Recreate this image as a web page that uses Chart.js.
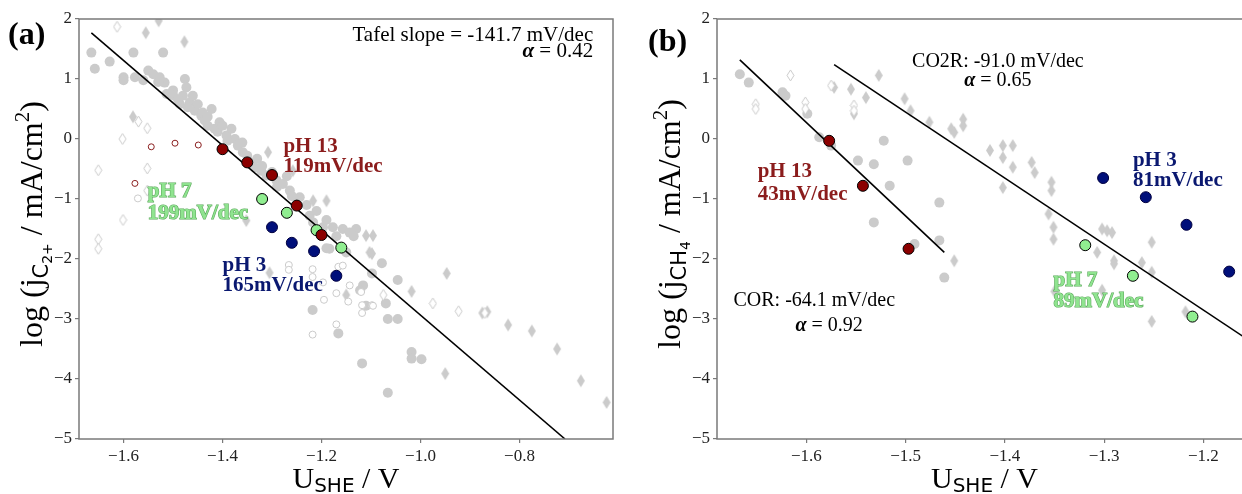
<!DOCTYPE html>
<html><head><meta charset="utf-8">
<script src="https://cdn.jsdelivr.net/npm/chart.js@4.4.1/dist/chart.umd.min.js"></script>
<style>
html,body{margin:0;padding:0;background:#fff;overflow:hidden;width:1242px;height:494px}
.panel{position:absolute;top:0}
#pa{left:0;width:620px;height:494px}
#pb{left:620px;width:640px;height:494px}
</style></head><body>
<div class="panel" id="pa"><canvas id="ca" width="620" height="494"></canvas></div>
<div class="panel" id="pb"><canvas id="cb" width="640" height="494"></canvas></div>
<script>
// ---- panel (a): C2+ ----
const aTicksX = [-1.6, -1.4, -1.2, -1.0, -0.8];
const ticksY = [-5, -4, -3, -2, -1, 0, 1, 2];

const aGrayX = [-1.665,-1.658,-1.628,-1.60,-1.58,-1.577,-1.55,-1.54,-1.527,-1.52,-1.517,-1.513,-1.50,-1.486,-1.48,-1.476,-1.473,-1.466,-1.456,-1.45,-1.443,-1.436,-1.43,-1.422,-1.416,-1.406,-1.392,-1.382,-1.375,-1.369,-1.359,-1.342,-1.335,-1.322,-1.311,-1.291,-1.278,-1.264,-1.244,-1.224,-1.217,-1.197,-1.177,-1.157,-1.143,-1.184,-1.15,-1.116,-1.11,-1.19,-1.078,-1.098,-1.046,-1.122,-1.218,-1.07,-1.066,-1.046,-1.166,-1.018,-1.018,-0.998,-1.118,-1.066,
  -1.60,-1.56,-1.53,-1.50,-1.49,-1.47,-1.46,-1.44,-1.43,-1.41,-1.40,-1.39,-1.36,-1.35,-1.33,-1.32,-1.30,-1.29,-1.27,-1.26,-1.23,-1.21,-1.19,-1.20,-1.17,-1.13,-1.135];
const aGrayY = [1.44,1.17,1.29,1.03,1.44,1.03,1.14,1.08,1.03,1.44,0.94,0.75,0.81,0.58,0.72,1.0,0.86,0.61,0.47,0.58,0.39,0.31,0.22,0.5,0.17,0.28,0.06,0.17,0.0,-0.11,-0.22,-0.39,-0.47,-0.53,-0.61,-0.69,-0.75,-0.86,-0.97,-1.28,-1.39,-1.47,-1.47,-1.5,-1.56,-1.83,-1.89,-2.44,-2.78,-1.82,-2.07,-2.24,-2.35,-2.52,-2.85,-2.74,-3.0,-3.0,-3.24,-3.55,-3.66,-3.67,-3.74,-4.23,
  0.98,0.98,0.95,0.73,0.66,0.53,0.72,0.44,0.37,0.12,0.22,-0.03,-0.06,-0.28,-0.33,-0.45,-0.55,-0.8,-0.62,-0.95,-1.1,-1.2,-1.35,-1.55,-1.62,-1.5,-1.62];
const aDiaX = [-1.555,-1.529,-1.477,-1.581,-1.308,-1.258,-1.217,-1.19,-1.11,-1.096,-1.103,-1.352,-1.098,-0.947,-1.018,-0.875,-0.865,-0.823,-0.775,-0.724,-0.95,-0.676,-0.624,-1.305,-1.15];
const aDiaY = [1.77,1.97,1.62,0.37,-0.22,-0.53,-1.03,-1.03,-1.61,-1.61,-1.89,-1.36,-1.91,-2.24,-2.54,-2.9,-2.88,-3.1,-3.2,-3.5,-3.91,-4.03,-4.39,-2.23,-2.6];
const aOpenDiaX = [-1.613,-1.57,-1.552,-1.602,-1.552,-1.651,-1.601,-1.651,-1.651,-1.552,-1.075,-0.975,-0.923,-0.87];
const aOpenDiaY = [1.87,0.29,0.18,0.0,-0.49,-0.52,-1.35,-1.67,-1.83,-0.86,-2.6,-2.74,-2.87,-2.9];
const aOpenX = [-1.571,-1.266,-1.266,-1.218,-1.218,-1.166,-1.195,-1.17,-1.146,-1.118,-1.118,-1.098,-1.17,-1.218,-1.12,-1.157,-1.143,-1.197,-1.096];
const aOpenY = [-0.99,-2.1,-2.18,-2.17,-2.3,-2.13,-2.68,-2.57,-2.71,-2.77,-2.9,-2.77,-3.09,-3.26,-2.55,-2.11,-2.44,-2.39,-2.78];
const aRedOpenX = [-1.544,-1.496,-1.449,-1.577];
const aRedOpenY = [-0.13,-0.07,-0.10,-0.74];
const aPH13X = [-1.40,-1.35,-1.30,-1.25,-1.20];
const aPH13Y = [-0.17,-0.39,-0.60,-1.11,-1.60];
const aPH7X = [-1.32,-1.27,-1.21,-1.16];
const aPH7Y = [-1.00,-1.23,-1.52,-1.81];
const aPH3X = [-1.30,-1.26,-1.215,-1.17];
const aPH3Y = [-1.47,-1.73,-1.87,-2.28];
const aFitX = [-1.665, -0.708];
const aFitY = [1.767, -5.0];

// ---- panel (b): CH4 ----
const bTicksX = [-1.6, -1.5, -1.4, -1.3, -1.2];
const bGrayX = [-1.667,-1.658,-1.624,-1.621,-1.599,-1.587,-1.575,-1.548,-1.532,-1.522,-1.498,-1.516,-1.466,-1.532,-1.491,-1.466,-1.461];
const bGrayY = [1.08,0.94,0.78,0.72,0.42,0.03,-0.11,-0.36,-0.42,-0.03,-0.36,-0.78,-1.06,-1.39,-1.75,-1.69,-2.31];
const bDiaX = [-1.527,-1.572,-1.555,-1.54,-1.552,-1.501,-1.495,-1.476,-1.454,-1.451,-1.442,-1.442,-1.415,-1.402,-1.402,-1.392,-1.392,-1.402,-1.373,-1.37,-1.353,-1.353,-1.356,-1.351,-1.351,-1.302,-1.297,-1.292,-1.307,-1.29,-1.29,-1.262,-1.252,-1.252,-1.252,-1.218,-1.451,-1.35,-1.302];
const bDiaY = [1.06,0.86,0.83,0.69,0.42,0.67,0.47,0.28,0.17,0.11,0.33,0.22,-0.19,-0.11,-0.31,-0.11,-0.47,-0.81,-0.39,-0.56,-0.72,-0.86,-1.25,-1.47,-1.67,-1.5,-1.53,-1.56,-1.89,-2.03,-2.08,-2.06,-1.72,-2.22,-3.04,-2.88,-2.03,-2.54,-2.52];
const bOpenDiaX = [-1.616,-1.651,-1.651,-1.601,-1.601,-1.575,-1.552,-1.552];
const bOpenDiaY = [1.06,0.58,0.50,0.61,0.50,0.89,0.56,0.47];
const bPH13X = [-1.577,-1.543,-1.497];
const bPH13Y = [-0.03,-0.78,-1.83];
const bPH7X = [-1.319,-1.271,-1.211];
const bPH7Y = [-1.77,-2.28,-2.96];
const bPH3X = [-1.301,-1.258,-1.217,-1.174];
const bPH3Y = [-0.65,-0.97,-1.43,-2.21];
const bCorX = [-1.667, -1.461];
const bCorY = [1.32, -1.89];
const bCo2rX = [-1.572, -1.15];
const bCo2rY = [1.24, -3.40];

const SERIF = '"Liberation Serif", "Times New Roman", serif';
const SANS = '"DejaVu Sans", sans-serif';
const GRAY = '#cbcbcb';
const RED = '#8b0000', REDTXT = '#8b1c1c';
const GREEN = '#90ee90', GREENTXT = '#8fe48f';
const NAVY = '#000f7a', NAVYTXT = '#0a1870';

function pts(xs, ys) { return xs.map((x, i) => ({ x: x, y: ys[i] })); }
function fmt1(v) { return (v < 0 ? '\u2212' : '') + Math.abs(v).toFixed(1); }
function fmt0(v) { return (v < 0 ? '\u2212' : '') + Math.abs(v); }

function diamond(w, h, fill, stroke) {
  const c = document.createElement('canvas');
  c.width = w + 2; c.height = h + 2;
  const g = c.getContext('2d');
  g.beginPath();
  g.moveTo(c.width / 2, 1); g.lineTo(c.width - 1, c.height / 2);
  g.lineTo(c.width / 2, c.height - 1); g.lineTo(1, c.height / 2);
  g.closePath();
  g.fillStyle = fill; g.fill();
  if (stroke) { g.strokeStyle = stroke; g.lineWidth = 1; g.stroke(); }
  return c;
}
const diaFull = diamond(8, 13, GRAY);
const diaOpen = diamond(7, 11, '#fff', GRAY);

function drawRich(ctx, segs, x, y, align, color, stroke) {
  let w = 0;
  segs.forEach(s => { ctx.font = s.f; s.w = ctx.measureText(s.t).width; w += s.w; });
  let cx = align === 'center' ? x - w / 2 : align === 'right' ? x - w : x;
  ctx.textBaseline = 'alphabetic';
  ctx.textAlign = 'left';
  segs.forEach(s => {
    ctx.font = s.f;
    if (stroke) { ctx.strokeStyle = stroke; ctx.lineWidth = 1.2; ctx.strokeText(s.t, cx, y + (s.dy || 0)); }
    ctx.fillStyle = color;
    ctx.fillText(s.t, cx, y + (s.dy || 0));
    cx += s.w;
  });
}

function decor(p) {
  return {
    id: 'decor',
    afterDraw(chart) {
      const { ctx, chartArea: a, scales: { x, y } } = chart;
      ctx.save();
      ctx.strokeStyle = '#7a7a7a'; ctx.lineWidth = 1.5;
      ctx.strokeRect(a.left, a.top, a.right - a.left, a.bottom - a.top);
      p.notes.forEach(n => drawRich(ctx, n.segs, x.getPixelForValue(n.x), y.getPixelForValue(n.y), n.align, n.color, n.stroke));
      drawRich(ctx, [{ t: p.letter, f: 'bold 32px ' + SERIF }], p.letterX, p.letterY, 'left', '#000');
      drawRich(ctx, p.xTitle, (a.left + a.right) / 2, 488, 'center', '#000');
      ctx.translate(a.left - 45, (a.top + a.bottom) / 2 - 5);
      ctx.rotate(-Math.PI / 2);
      drawRich(ctx, p.yTitle, 0, 8, 'center', '#000');
      ctx.restore();
    }
  };
}

function txt(t, size, bold) { return { t: t, f: (bold ? 'bold ' : '') + size + 'px ' + SERIF }; }
function alphaLine(v, size) { return [{ t: '\u03b1', f: 'italic bold ' + size + 'px ' + SERIF }, txt(' = ' + v, size)]; }

function scatterSet(data, style, r, fill, edge, order) {
  return { data: data, pointStyle: style, pointRadius: r, pointBackgroundColor: fill,
    pointBorderColor: edge || fill, pointBorderWidth: edge ? 1 : 0, showLine: false, order: order };
}
function lineSet(data) {
  return { data: data, showLine: true, pointRadius: 0, borderColor: '#000', borderWidth: 1.6, order: 2 };
}

function makeChart(id, p) {
  return new Chart(document.getElementById(id), {
    type: 'scatter',
    data: { datasets: p.datasets },
    options: {
      responsive: false, animation: false, events: [],
      layout: { padding: { left: p.padLeft, right: p.padRight, top: 19, bottom: 25 } },
      plugins: { legend: { display: false }, tooltip: { enabled: false } },
      scales: {
        x: {
          type: 'linear', min: p.xMin, max: p.xMax,
          afterBuildTicks: s => { s.ticks = p.ticksX.map(v => ({ value: v })); },
          afterFit: s => { s.height = 30; },
          grid: { drawOnChartArea: false, drawTicks: true, tickLength: 4, color: '#7a7a7a', lineWidth: 1.2 },
          border: { display: false },
          ticks: { color: '#222', font: { family: SERIF, size: 17 }, padding: 3, maxRotation: 0, autoSkip: false, callback: v => fmt1(v) }
        },
        y: {
          type: 'linear', min: -5, max: 2,
          afterBuildTicks: s => { s.ticks = ticksY.map(v => ({ value: v })); },
          afterFit: s => { s.width = 40; },
          grid: { drawOnChartArea: false, drawTicks: true, tickLength: 4, color: '#7a7a7a', lineWidth: 1.2 },
          border: { display: false },
          ticks: { color: '#222', font: { family: SERIF, size: 17 }, padding: 3, autoSkip: false, callback: v => fmt0(v) }
        }
      }
    },
    plugins: [decor(p)]
  });
}

makeChart('ca', {
  padLeft: 39, padRight: 7, xMin: -1.69, xMax: -0.611, ticksX: aTicksX,
  letter: '(a)', letterX: 8, letterY: 44,
  xTitle: [txt('U', 30), { t: 'SHE', f: '20px ' + SANS, dy: 4 }, txt(' / V', 30)],
  yTitle: [txt('log (j', 32), { t: 'C', f: '21px ' + SANS, dy: 6 }, { t: '2+', f: '14px ' + SANS, dy: 10 }, txt(' / mA/cm', 32), { t: '2', f: '21px ' + SERIF, dy: -13 }, txt(')', 32)],
  notes: [
    { x: -0.651, y: 1.633, align: 'right', color: '#000', segs: [txt('Tafel slope = -141.7 mV/dec', 21)] },
    { x: -0.651, y: 1.367, align: 'right', color: '#000', segs: alphaLine('0.42', 21) },
    { x: -1.277, y: -0.217, align: 'left', color: REDTXT, segs: [txt('pH 13', 21, true)] },
    { x: -1.277, y: -0.55, align: 'left', color: REDTXT, segs: [txt('119mV/dec', 21, true)] },
    { x: -1.551, y: -0.967, align: 'left', color: GREENTXT, stroke: '#5da85d', segs: [txt('pH 7', 21, true)] },
    { x: -1.551, y: -1.333, align: 'left', color: GREENTXT, stroke: '#5da85d', segs: [txt('199mV/dec', 21, true)] },
    { x: -1.40, y: -2.2, align: 'left', color: NAVYTXT, segs: [txt('pH 3', 21, true)] },
    { x: -1.40, y: -2.533, align: 'left', color: NAVYTXT, segs: [txt('165mV/dec', 21, true)] }
  ],
  datasets: [
    scatterSet(pts(aGrayX, aGrayY), 'circle', 5, GRAY, null, 9),
    scatterSet(pts(aDiaX, aDiaY), diaFull, 6, GRAY, null, 8),
    scatterSet(pts(aOpenDiaX, aOpenDiaY), diaOpen, 6, '#fff', null, 7),
    scatterSet(pts(aOpenX, aOpenY), 'circle', 3.5, '#fff', GRAY, 6),
    scatterSet(pts(aRedOpenX, aRedOpenY), 'circle', 3, '#fff', '#8b2020', 5),
    lineSet(pts(aFitX, aFitY)),
    scatterSet(pts(aPH3X, aPH3Y), 'circle', 5.5, NAVY, '#000040', 1),
    scatterSet(pts(aPH7X, aPH7Y), 'circle', 5.5, GREEN, '#000', 1),
    scatterSet(pts(aPH13X, aPH13Y), 'circle', 5.5, RED, '#000', 0)
  ]
});

makeChart('cb', {
  padLeft: 57, padRight: 8, xMin: -1.69, xMax: -1.151, ticksX: bTicksX,
  letter: '(b)', letterX: 28, letterY: 51,
  xTitle: [txt('U', 30), { t: 'SHE', f: '20px ' + SANS, dy: 4 }, txt(' / V', 30)],
  yTitle: [txt('log (j', 32), { t: 'CH', f: '21px ' + SANS, dy: 6 }, { t: '4', f: '14px ' + SANS, dy: 10 }, txt(' / mA/cm', 32), { t: '2', f: '21px ' + SERIF, dy: -13 }, txt(')', 32)],
  notes: [
    { x: -1.407, y: 1.2, align: 'center', color: '#000', segs: [txt('CO2R: -91.0 mV/dec', 20)] },
    { x: -1.407, y: 0.883, align: 'center', color: '#000', segs: alphaLine('0.65', 20) },
    { x: -1.592, y: -2.783, align: 'center', color: '#000', segs: [txt('COR: -64.1 mV/dec', 20)] },
    { x: -1.577, y: -3.2, align: 'center', color: '#000', segs: alphaLine('0.92', 20) },
    { x: -1.649, y: -0.633, align: 'left', color: REDTXT, segs: [txt('pH 13', 21, true)] },
    { x: -1.649, y: -1.017, align: 'left', color: REDTXT, segs: [txt('43mV/dec', 21, true)] },
    { x: -1.271, y: -0.45, align: 'left', color: NAVYTXT, segs: [txt('pH 3', 21, true)] },
    { x: -1.271, y: -0.783, align: 'left', color: NAVYTXT, segs: [txt('81mV/dec', 21, true)] },
    { x: -1.351, y: -2.45, align: 'left', color: GREENTXT, stroke: '#5da85d', segs: [txt('pH 7', 21, true)] },
    { x: -1.351, y: -2.8, align: 'left', color: GREENTXT, stroke: '#5da85d', segs: [txt('89mV/dec', 21, true)] }
  ],
  datasets: [
    scatterSet(pts(bGrayX, bGrayY), 'circle', 5, GRAY, null, 9),
    scatterSet(pts(bDiaX, bDiaY), diaFull, 6, GRAY, null, 8),
    scatterSet(pts(bOpenDiaX, bOpenDiaY), diaOpen, 6, '#fff', null, 7),
    lineSet(pts(bCorX, bCorY)),
    lineSet(pts(bCo2rX, bCo2rY)),
    scatterSet(pts(bPH3X, bPH3Y), 'circle', 5.5, NAVY, '#000040', 1),
    scatterSet(pts(bPH7X, bPH7Y), 'circle', 5.5, GREEN, '#000', 1),
    scatterSet(pts(bPH13X, bPH13Y), 'circle', 5.5, RED, '#000', 0)
  ]
});
</script></body></html>
